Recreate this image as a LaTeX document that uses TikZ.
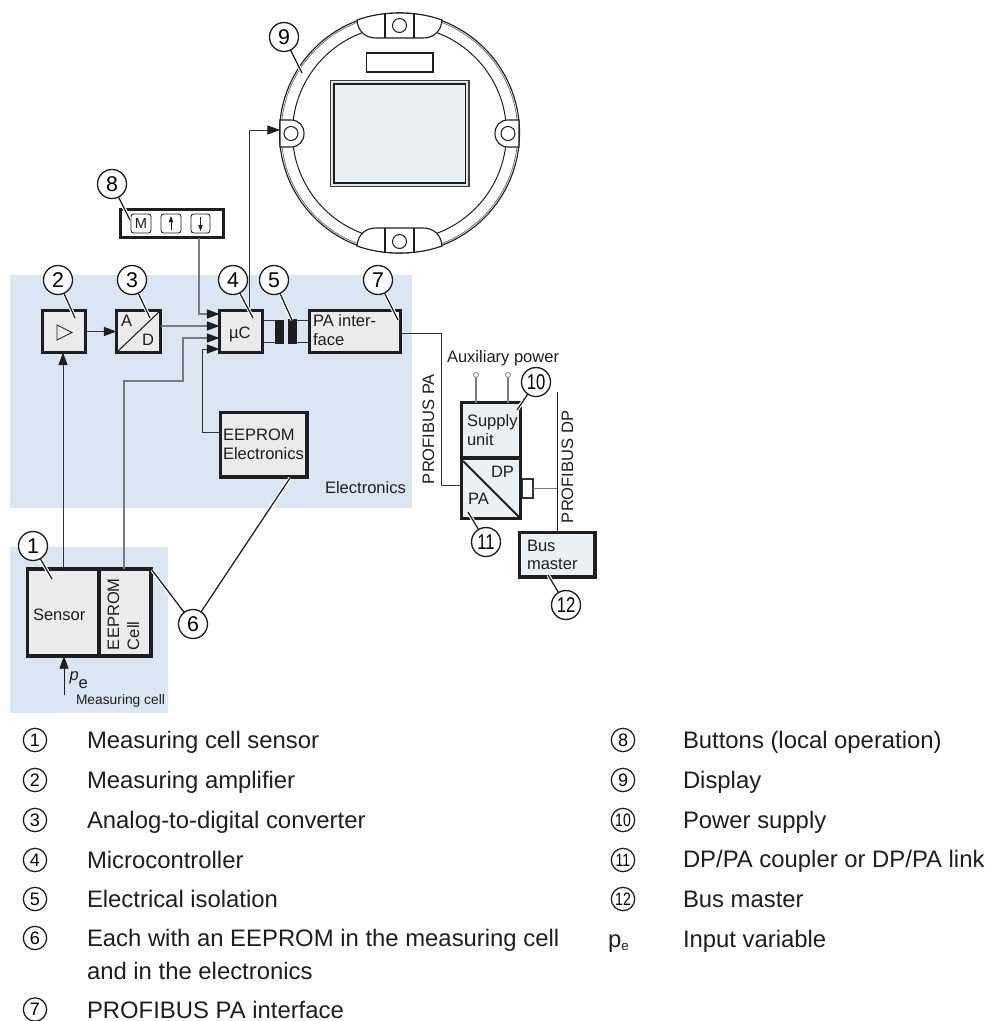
\documentclass[tikz,border=0pt]{standalone}
\usepackage{fontspec}
\usepackage{graphicx}
\setmainfont{Liberation Sans}
\usetikzlibrary{arrows.meta}
\definecolor{bandblue}{HTML}{DBE6F5}
\definecolor{boxgray}{HTML}{EBEBEB}
\definecolor{boxpale}{HTML}{EAF0F3}
\definecolor{ink}{HTML}{1E1E1E}
\definecolor{wire}{HTML}{333333}
\definecolor{greywire}{HTML}{7A7A7A}
\tikzset{
  band/.style={fill=bandblue,draw=none,inner sep=0,outer sep=0},
  hbox/.style={draw=ink,line width=2.4pt,inner sep=0,outer sep=0},
  grayb/.style={hbox,fill=boxgray},
  paleb/.style={hbox,fill=boxpale},
  whiteb/.style={hbox,fill=white},
  isol/.style={fill=ink,draw=none,inner sep=0,outer sep=0},
  keyb/.style={draw=ink,line width=.65pt,rounded corners=2pt,fill=white,inner sep=0,outer sep=0},
  thin box/.style={draw=ink,line width=.8pt,fill=white,inner sep=0,outer sep=0},
  conn/.style={draw=wire,line width=.62pt},
  gconn/.style={draw=greywire,line width=1.1pt},
  arr/.style={conn,-{Triangle[length=9.5pt,width=6.8pt,color=ink]}},
  leader/.style={draw=ink,line width=.95pt,preaction={draw=white,line width=2.6pt}},
  callout/.style={circle,draw=ink,line width=1pt,fill=white,minimum size=21.75pt,inner sep=0,outer sep=0,font=\fontsize{16}{16}\selectfont},
  legc/.style={circle,draw=ink,line width=.95pt,fill=white,minimum size=17.5pt,inner sep=0,outer sep=0,font=\fontsize{13.5}{13.5}\selectfont},
  lab/.style={anchor=base west,inner sep=0,outer sep=0,text=ink,font=\fontsize{12.4}{12.4}\selectfont},
  rlab/.style={lab,rotate=90},
  slab/.style={lab,font=\fontsize{10.35}{10.35}\selectfont},
  leg/.style={anchor=base west,inner sep=0,outer sep=0,text=ink,font=\fontsize{17.9}{17.9}\selectfont},
  hole/.style={draw=ink,line width=.75pt,fill=white},
  ringl/.style={draw=ink,line width=.85pt},
}
\newcommand\myb[6]{\node[#2,minimum width={(#5-#3)*.75pt},minimum height={(#6-#4)*.75pt}] (#1) at ({(#3+#5)/2},{(#4+#6)/2}) {};}
\newcommand\narrow[1]{\scalebox{.78}[1]{#1}}
\begin{document}
\begin{tikzpicture}[x=.75pt,y=-.75pt]
\useasboundingbox (0,0) rectangle (993,1021);
% background bands
\myb{elecband}{band}{10}{275}{412}{508}
\myb{cellband}{band}{10}{547}{168}{713}
% display
\coordinate (dc) at (399.5,133);
\draw[ringl] (dc) circle (120);
\draw[draw=ink!70,line width=.5pt] (dc) circle (118.3);
\draw[ringl,line width=.75pt] (dc) circle (107);
\path[ringl,fill=white] (357,20) .. controls (358,32) and (366,38) .. (376,38) -- (423,38) .. controls (433,38) and (441,32) .. (442,20) .. controls (428,15) and (414,13) .. (399.5,13) .. controls (385,13) and (371,15) .. (357,20) -- cycle;
\path[ringl,fill=white] (357,246) .. controls (358,234) and (366,228) .. (376,228) -- (423,228) .. controls (433,228) and (441,234) .. (442,246) .. controls (428,251) and (414,253) .. (399.5,253) .. controls (385,253) and (371,251) .. (357,246) -- cycle;
\path[ringl,fill=white] (280,120) -- (291,120) .. controls (299,120) and (304,126) .. (304,133.5) .. controls (304,141) and (299,147) .. (291,147) -- (280,147) -- cycle;
\path[ringl,fill=white] (519,120) -- (508,120) .. controls (500,120) and (495,126) .. (495,133.5) .. controls (495,141) and (500,147) .. (508,147) -- (519,147) -- cycle;
\draw[ringl] (385,13.5) -- (385,38) (414,13.5) -- (414,38) (385,228) -- (385,252.5) (414,228) -- (414,252.5);
\draw[hole] (399.5,25.5) circle (7);
\draw[hole] (399.5,241.5) circle (7);
\draw[hole] (291,133.5) circle (7);
\draw[hole] (508,133.5) circle (7);
\myb{slot}{thin box,line width=.95pt}{366.5}{53}{433}{72}
\myb{dispouter}{thin box,line width=1pt,draw=ink!85,fill=ink!12}{330.5}{80.5}{469}{186.5}
\myb{dispinner}{thin box,fill=boxpale,line width=1.2pt}{334}{84}{465.5}{183}
% boxes
\myb{btn}{whiteb}{120.5}{209.5}{223.5}{237.5}
\myb{keym}{keyb}{131}{214}{151}{233}
\myb{keyu}{keyb}{161}{214}{181}{233}
\myb{keyd}{keyb}{191}{214}{210}{233}
\myb{amp}{grayb}{42.5}{310.5}{85.5}{352.5}
\myb{adc}{grayb}{116.5}{310.5}{160.5}{352.5}
\myb{uc}{grayb}{219.5}{310.5}{262.5}{352.5}
\myb{pai}{grayb}{309.5}{310.5}{400.5}{352.5}
\myb{barl}{isol}{275}{320}{284}{344}
\myb{barr}{isol}{288}{319}{297}{344}
\myb{eepe}{grayb}{220.5}{412.5}{307}{477}
\myb{sensor}{grayb}{27.5}{569}{99}{656}
\myb{eepc}{grayb}{99}{569}{151}{656}
\myb{stub}{thin box,draw=wire}{522}{479}{533}{498}
\myb{supply}{paleb}{461.5}{402.5}{520.5}{458}
\myb{coupler}{paleb}{461.5}{458}{520.5}{518.5}
\myb{busm}{paleb}{519.5}{532.5}{595}{577}
% helper coordinates for wires
\coordinate (yu) at (0,314); \coordinate (ya) at (0,326); \coordinate (ye) at (0,338); \coordinate (yf) at (0,349);
\coordinate (xb) at (199,0); \coordinate (xs) at (63,0); \coordinate (xc) at (124,0);
\coordinate (xe) at (183,0); \coordinate (xf) at (202,0); \coordinate (xd) at (249,0);
\coordinate (dispy) at (0,130);
\coordinate (ylow) at (0,381); \coordinate (yee) at (0,432);
\coordinate (ypa) at (0,333); \coordinate (xpa) at (441,0); \coordinate (ycp) at (0,485);
\coordinate (xdp) at (557,0); \coordinate (dptop) at (557,392);
\coordinate (ytop) at (0,320); \coordinate (ybot) at (0,342.5);
\coordinate (aux1) at (476,375); \coordinate (aux2) at (508,375);
\coordinate (pin) at (64,695);
% wires
\draw[arr,draw=greywire,line width=.85pt] (xb |- btn.south) -- (xb |- yu) -- (uc.west |- yu);
\draw[arr] (amp.east) -- (adc.west);
\draw[arr,draw=greywire,line width=.85pt] (adc.east |- ya) -- (uc.west |- ya);
\draw[arr,draw=greywire,line width=.85pt] (xc |- eepc.north) -- (xc |- ylow) -- (xe |- ylow) -- (xe |- ye) -- (uc.west |- ye);
\draw[arr] (eepe.west |- yee) -- (xf |- yee) -- (xf |- yf) -- (uc.west |- yf);
\draw[arr] (xs |- sensor.north) -- (xs |- amp.south);
\draw[arr] (xd |- uc.north) -- (xd |- dispy) -- (280,130);
\draw[conn] (uc.east |- ytop) -- (barl.west |- ytop);
\draw[conn] (uc.east |- ybot) -- (barl.west |- ybot);
\draw[conn] (barr.east |- ytop) -- (pai.west |- ytop);
\draw[conn] (barr.east |- ybot) -- (pai.west |- ybot);
\draw[conn] (pai.east |- ypa) -- (xpa |- ypa) -- (xpa |- ycp) -- (coupler.west |- ycp);
\draw[gconn] (stub.east) -- (xdp |- stub.east);
\draw[conn,draw=ink,line width=.75pt] (dptop) -- (xdp |- busm.north);
\draw[gconn] (aux1) -- (aux1 |- supply.north);
\draw[gconn] (aux2) -- (aux2 |- supply.north);
\draw[draw=greywire,line width=.6pt,fill=white] (aux1) circle (2.5) (aux2) circle (2.5);
\draw[arr,draw=ink] (pin) -- (pin |- sensor.south);
% box details
\draw[draw=ink,line width=.8pt] (adc.south west) -- (adc.north east);
\draw[draw=ink,line width=1.5pt] (463,461) -- (519,517);
\draw[draw=ink,line width=.55pt] (57,325) -- (57,340) -- (72,332.5) -- cycle;
\coordinate (ku1) at (171,230); \coordinate (ku2) at (171,216);
\coordinate (kd1) at (200.5,217); \coordinate (kd2) at (200.5,231);
\draw[draw=ink,line width=.6pt,-{Triangle[length=4.5pt,width=3.2pt]}] (ku1) -- (ku2);
\draw[draw=ink,line width=.6pt,-{Triangle[length=4.5pt,width=3.2pt]}] (kd1) -- (kd2);
\node[lab,font=\fontsize{11}{11}\selectfont,anchor=center] (tm) at (keym) {M};
% box labels
\node[lab] (ta) at (121,326) {A};
\node[lab] (td) at (142,345) {D};
\node[lab] (tuc) at (229,338) {µC};
\node[lab] (tpa1) at (313,326) {PA inter-};
\node[lab] (tpa2) at (313,345) {face};
\node[lab] (tee1) at (223,440) {EEPROM};
\node[lab] (tee2) at (223,459) {Electronics};
\node[lab] (tel) at (325,493) {Electronics};
\node[lab] (tsn) at (33,620) {Sensor};
\node[rlab] (tec1) at (119,650) {EEPROM};
\node[rlab] (tec2) at (139,650) {Cell};
\node[slab] (tmc) at (76,704) {Measuring cell};
\node[lab] (tpin) at (69.5,680) {\textit{p}\raisebox{-6pt}{e}};
\node[lab] (taux) at (447,362) {Auxiliary power};
\node[rlab] (tpfa) at (434,484) {PROFIBUS PA};
\node[rlab] (tpfd) at (573,523) {PROFIBUS DP};
\node[lab] (ts1) at (467,426) {Supply};
\node[lab] (ts2) at (467,445) {unit};
\node[lab] (tdp) at (491,477) {DP};
\node[lab] (tpa) at (468,504) {PA};
\node[lab] (tb1) at (527,551) {Bus};
\node[lab] (tb2) at (527,569) {master};
% leader tips
\coordinate (l1) at (52,579); \coordinate (l2) at (75,318); \coordinate (l3) at (150,318);
\coordinate (l4) at (253,318); \coordinate (l5) at (292,320); \coordinate (l6a) at (152,570);
\coordinate (l6b) at (290,478); \coordinate (l7) at (398,320); \coordinate (l8) at (130,220);
\coordinate (l9) at (302,73); \coordinate (l10) at (517,410); \coordinate (l11) at (468,512);
\coordinate (l12) at (548,575);
% leaders start on the circle centres, the callouts cover them
\coordinate (a1) at (33,546); \coordinate (a2) at (58,280); \coordinate (a3) at (132,280);
\coordinate (a4) at (233,280); \coordinate (a5) at (274,280); \coordinate (a6) at (193,624);
\coordinate (a7) at (378,280); \coordinate (a8) at (112,184); \coordinate (a9) at (284,37);
\coordinate (a10) at (536,382); \coordinate (a11) at (486,542); \coordinate (a12) at (566,605);
\draw[leader] (a1) -- (l1); \draw[leader] (a2) -- (l2); \draw[leader] (a3) -- (l3);
\draw[leader] (a4) -- (l4); \draw[leader] (a5) -- (l5); \draw[leader] (a6) -- (l6a);
\draw[leader] (a6) -- (l6b); \draw[leader] (a7) -- (l7); \draw[leader] (a8) -- (l8);
\draw[leader] (a9) -- (l9); \draw[leader] (a10) -- (l10); \draw[leader] (a11) -- (l11);
\draw[leader] (a12) -- (l12);
\node[callout] (c1) at (a1) {1};
\node[callout] (c2) at (a2) {2};
\node[callout] (c3) at (a3) {3};
\node[callout] (c4) at (a4) {4};
\node[callout] (c5) at (a5) {5};
\node[callout] (c6) at (a6) {6};
\node[callout] (c7) at (a7) {7};
\node[callout] (c8) at (a8) {8};
\node[callout] (c9) at (a9) {9};
\node[callout] (c10) at (a10) {\narrow{10}};
\node[callout] (c11) at (a11) {\narrow{11}};
\node[callout] (c12) at (a12) {\narrow{12}};
% legend left
\node[legc] (k1) at (35,740) {1};   \node[leg] (v1) at (87,748) {Measuring cell sensor};
\node[legc] (k2) at (35,780) {2};   \node[leg] (v2) at (87,788) {Measuring amplifier};
\node[legc] (k3) at (35,820) {3};   \node[leg] (v3) at (87,828) {Analog-to-digital converter};
\node[legc] (k4) at (35,860) {4};   \node[leg] (v4) at (87,868) {Microcontroller};
\node[legc] (k5) at (35,899) {5};   \node[leg] (v5) at (87,907) {Electrical isolation};
\node[legc] (k6) at (35,938) {6};   \node[leg] (v6) at (87,946) {Each with an EEPROM in the measuring cell};
\node[leg] (v6b) at (87,979) {and in the electronics};
\node[legc] (k7) at (35,1009.5) {7};  \node[leg] (v7) at (87,1018) {PROFIBUS PA interface};
% legend right
\node[legc] (k8) at (623,740) {8};  \node[leg] (v8) at (683,748) {Buttons (local operation)};
\node[legc] (k9) at (623,780) {9};  \node[leg] (v9) at (683,788) {Display};
\node[legc] (k10) at (623,820) {\narrow{10}}; \node[leg] (v10) at (683,828) {Power supply};
\node[legc] (k11) at (623,860) {\narrow{11}}; \node[leg] (v11) at (683,867) {DP/PA coupler or DP/PA link};
\node[legc] (k12) at (623,899) {\narrow{12}}; \node[leg] (v12) at (683,907) {Bus master};
\node[leg] (kp) at (608,947) {p\raisebox{-2.5pt}{\fontsize{10}{10}\selectfont e}};
\node[leg] (vp) at (683,947) {Input variable};
\end{tikzpicture}
\end{document}
